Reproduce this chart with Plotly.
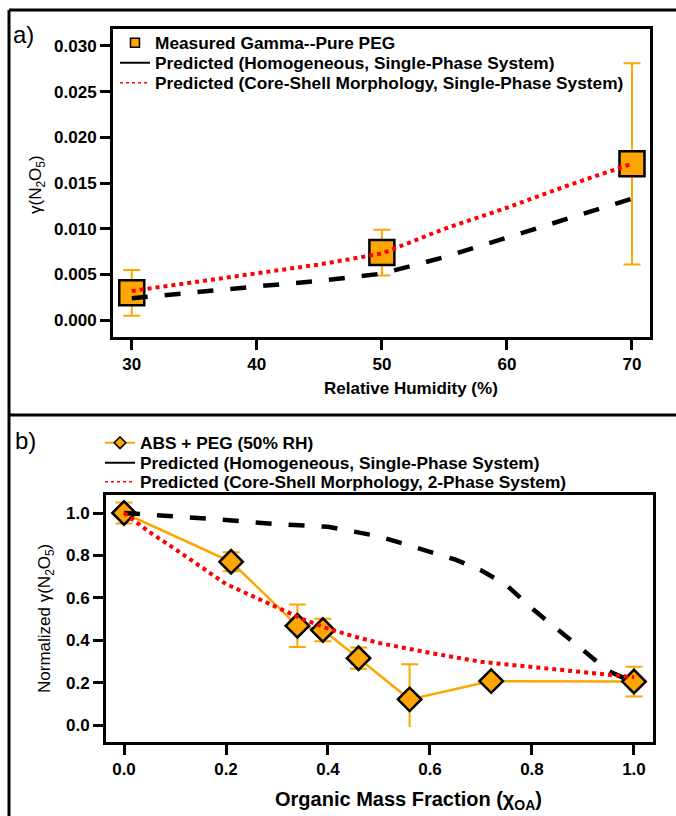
import plotly.graph_objects as go

# ---------------- Panel a data ----------------
rh_meas = [30, 50, 70]
gamma_meas = [0.0030, 0.0074, 0.0171]
gamma_err = [0.0025, 0.0025, 0.0110]
rh_model = [30, 35, 40, 45, 50, 55, 60, 65, 70]
gamma_homog = [0.0024, 0.0031, 0.0037, 0.0043, 0.0051, 0.0069, 0.0090, 0.0112, 0.0133]
gamma_coreshell = [0.0032, 0.0042, 0.0052, 0.0061, 0.0073, 0.0100, 0.0123, 0.0148, 0.0171]
rh_ticks = [30, 40, 50, 60, 70]
gamma_ticks = [0.000, 0.005, 0.010, 0.015, 0.020, 0.025, 0.030]

# ---------------- Panel b data ----------------
chi_meas = [0.0, 0.21, 0.34, 0.39, 0.46, 0.56, 0.72, 1.0]
norm_meas = [1.0, 0.77, 0.468, 0.448, 0.315, 0.121, 0.207, 0.205]
norm_err_plus = [0.05, 0.045, 0.10, 0.053, 0.05, 0.165, 0.0, 0.07]
norm_err_minus = [0.05, 0.045, 0.10, 0.053, 0.05, 0.0, 0.0, 0.07]
chi_lowbar = [0.56]
norm_lowbar = [0.121]
lowbar_minus = [0.13]
chi_model_h = [0.0, 0.1, 0.2, 0.3, 0.4, 0.5, 0.6, 0.65, 0.7, 0.75, 0.8, 0.85, 0.9, 0.95, 1.0]
norm_homog = [1.0, 0.985, 0.967, 0.947, 0.935, 0.89, 0.815, 0.78, 0.73, 0.66, 0.55, 0.45, 0.35, 0.255, 0.2]
chi_model_c = [0.0, 0.05, 0.1, 0.15, 0.2, 0.25, 0.3, 0.35, 0.4, 0.45, 0.5, 0.6, 0.7, 0.8, 0.9, 1.0]
norm_coreshell = [1.0, 0.91, 0.83, 0.75, 0.665, 0.61, 0.555, 0.5, 0.455, 0.418, 0.387, 0.34, 0.298, 0.274, 0.25, 0.225]
chi_ticks = [0.0, 0.2, 0.4, 0.6, 0.8, 1.0]
norm_ticks = [0.0, 0.2, 0.4, 0.6, 0.8, 1.0]

ORANGE = "#FFA500"
W, H = 676, 816
FONT = "Arial, Liberation Sans, sans-serif"


def px(x):
    return x / W


def py(y):
    return 1 - y / H


fig = go.Figure()

# ---- panel a traces ----
fig.add_trace(go.Scatter(
    x=rh_meas, y=gamma_meas, mode="markers", xaxis="x", yaxis="y", showlegend=False,
    marker=dict(symbol="square", size=25, color=ORANGE, line=dict(color="black", width=2.5)),
    error_y=dict(type="data", array=gamma_err, color=ORANGE, thickness=2, width=8.5),
))
fig.add_trace(go.Scatter(
    x=rh_model, y=gamma_homog, mode="lines", xaxis="x", yaxis="y", showlegend=False,
    line=dict(color="black", width=4.5, dash="16px,17px"),
))
fig.add_trace(go.Scatter(
    x=rh_model, y=gamma_coreshell, mode="lines", xaxis="x", yaxis="y", showlegend=False,
    line=dict(color="#FF0000", width=4, dash="4px,4px"),
))

# ---- panel b traces ----
fig.add_trace(go.Scatter(
    x=chi_lowbar, y=norm_lowbar, mode="markers", xaxis="x2", yaxis="y2", showlegend=False,
    marker=dict(size=2, opacity=0),
    error_y=dict(type="data", symmetric=False, array=[0], arrayminus=lowbar_minus,
                 color=ORANGE, thickness=2, width=0),
))
fig.add_trace(go.Scatter(
    x=chi_meas, y=norm_meas, mode="lines+markers", xaxis="x2", yaxis="y2", showlegend=False,
    line=dict(color=ORANGE, width=2.5),
    marker=dict(symbol="diamond", size=18, color=ORANGE, line=dict(color="black", width=2.5)),
    error_y=dict(type="data", symmetric=False, array=norm_err_plus, arrayminus=norm_err_minus,
                 color=ORANGE, thickness=2, width=8.5),
))
fig.add_trace(go.Scatter(
    x=chi_model_h, y=norm_homog, mode="lines", xaxis="x2", yaxis="y2", showlegend=False,
    line=dict(color="black", width=4.5, dash="16px,17px"),
))
fig.add_trace(go.Scatter(
    x=chi_model_c, y=norm_coreshell, mode="lines", xaxis="x2", yaxis="y2", showlegend=False,
    line=dict(color="#FF0000", width=4, dash="4px,4px"),
))

# ---- legend entries ----
legend_font = dict(family=FONT, size=17.3, color="black", weight="bold")
entries = [
    ("legend", "Measured Gamma--Pure PEG", "x", "y",
     dict(mode="markers", marker=dict(symbol="square", size=9, color=ORANGE, line=dict(color="black", width=1.5)))),
    ("legend2", "Predicted (Homogeneous, Single-Phase System)", "x", "y",
     dict(mode="lines", line=dict(color="black", width=2))),
    ("legend3", "Predicted (Core-Shell Morphology, Single-Phase System)", "x", "y",
     dict(mode="lines", line=dict(color="#FF0000", width=1.5, dash="dot"))),
    ("legend4", "ABS + PEG (50% RH)", "x2", "y2",
     dict(mode="lines+markers", line=dict(color=ORANGE, width=2),
          marker=dict(symbol="diamond", size=9, color=ORANGE, line=dict(color="black", width=1.5)))),
    ("legend5", "Predicted (Homogeneous, Single-Phase System)", "x2", "y2",
     dict(mode="lines", line=dict(color="black", width=2))),
    ("legend6", "Predicted (Core-Shell Morphology, 2-Phase System)", "x2", "y2",
     dict(mode="lines", line=dict(color="#FF0000", width=1.5, dash="dot"))),
]
for leg, name, xa, ya, style in entries:
    fig.add_trace(go.Scatter(x=[None], y=[None], name=name, xaxis=xa, yaxis=ya,
                             legend=leg, showlegend=True, **style))

legend_pos = {
    "legend": (115, 43), "legend2": (115, 63), "legend3": (115, 83),
    "legend4": (100, 443), "legend5": (100, 463), "legend6": (100, 482),
}
legend_layout = {}
for leg, (lx, ly) in legend_pos.items():
    legend_layout[leg] = dict(x=px(lx), y=py(ly), xanchor="left", yanchor="middle",
                              bgcolor="rgba(0,0,0,0)", borderwidth=0, font=legend_font,
                              itemclick=False, itemdoubleclick=False)

tick_font = dict(family=FONT, size=17, color="black", weight="bold")
axis_common = dict(showline=True, linewidth=3, linecolor="black", mirror=True,
                   ticks="outside", ticklen=10, tickwidth=3, tickcolor="black",
                   showgrid=False, zeroline=False, tickfont=tick_font)

fig.update_layout(
    width=W, height=H,
    margin=dict(l=0, r=0, t=0, b=0),
    paper_bgcolor="white", plot_bgcolor="white",
    font=dict(family=FONT, color="black"),
    xaxis=dict(domain=[px(113), px(650)], range=[28.5, 71.44], tickvals=rh_ticks,
               anchor="y", **axis_common),
    yaxis=dict(domain=[py(337), py(29)], range=[-0.00183, 0.03184], tickvals=gamma_ticks,
               tickformat=".3f", anchor="x", **axis_common),
    xaxis2=dict(domain=[px(106), px(653)], range=[-0.0353, 1.0373], tickvals=chi_ticks,
                tickformat=".1f", anchor="y2", **axis_common),
    yaxis2=dict(domain=[py(742), py(495)], range=[-0.0802, 1.0849], tickvals=norm_ticks,
                tickformat=".1f", anchor="x2", **axis_common),
    **legend_layout,
)

annotations = [
    dict(text="a)", x=px(23), y=py(35), font=dict(family=FONT, size=24)),
    dict(text="b)", x=px(25), y=py(440), font=dict(family=FONT, size=24)),
    dict(text="Relative Humidity (%)", x=px(411), y=py(388),
         font=dict(family=FONT, size=17, weight="bold")),
    dict(text="γ(N<sub>2</sub>O<sub>5</sub>)", x=px(37), y=py(185), textangle=-90,
         font=dict(family=FONT, size=17)),
    dict(text="Organic Mass Fraction (χ<sub>OA</sub>)", x=px(408), y=py(800),
         font=dict(family=FONT, size=20, weight="bold")),
    dict(text="Normalized γ(N<sub>2</sub>O<sub>5</sub>)", x=px(46), y=py(619), textangle=-90,
         font=dict(family=FONT, size=17)),
]
for a in annotations:
    a.update(xref="paper", yref="paper", showarrow=False, xanchor="center", yanchor="middle")
fig.update_layout(annotations=annotations)

frame = dict(color="black", width=3)
fig.update_layout(shapes=[
    dict(type="line", xref="paper", yref="paper", x0=px(9), x1=1, y0=py(10), y1=py(10), line=frame),
    dict(type="line", xref="paper", yref="paper", x0=px(9), x1=px(9), y0=py(10), y1=0, line=frame),
    dict(type="line", xref="paper", yref="paper", x0=px(9), x1=1, y0=py(415), y1=py(415), line=frame),
])

fig.write_html("out.html", config={"displayModeBar": False},
               post_script="document.body.style.margin='0';document.body.style.overflow='hidden';")
